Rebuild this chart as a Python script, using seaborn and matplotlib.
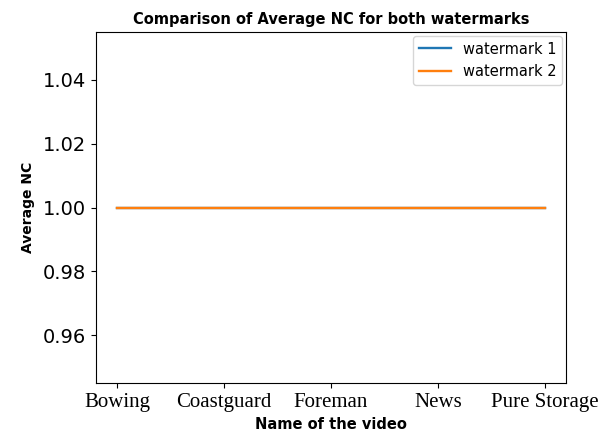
import matplotlib
matplotlib.use("Agg")
import matplotlib.pyplot as plt
import seaborn as sns
import pandas as pd

videos = ["Bowing", "Coastguard", "Foreman", "News", "Pure Storage"]
nc_watermark1 = [1.0, 1.0, 1.0, 1.0, 1.0]
nc_watermark2 = [1.0, 1.0, 1.0, 1.0, 1.0]

df = pd.DataFrame({
    "video": videos * 2,
    "nc": nc_watermark1 + nc_watermark2,
    "series": ["watermark 1"] * len(videos) + ["watermark 2"] * len(videos),
})

fig, ax = plt.subplots(figsize=(5.98, 4.45), dpi=100)
fig.subplots_adjust(left=0.1605, right=0.9465, top=0.928, bottom=0.139)

sns.lineplot(data=df, x="video", y="nc", hue="series",
             palette=["#1f77b4", "#ff7f0e"], linewidth=1.7, ax=ax, sort=False)

ax.set_title("Comparison of Average NC for both watermarks",
             fontsize=10.5, fontweight="bold")
ax.set_xlabel("Name of the video", fontsize=10.5, fontweight="bold")
ax.set_ylabel("Average NC", fontsize=10, fontweight="bold", labelpad=6)
ax.tick_params(axis="y", labelsize=14)
for lbl in ax.get_xticklabels():
    lbl.set_fontfamily("Liberation Serif")
    lbl.set_fontsize(15)
ax.legend(loc="upper right", fontsize=10.5, borderaxespad=0.25,
          handlelength=2.2)

fig.savefig("out.png", dpi=100)
